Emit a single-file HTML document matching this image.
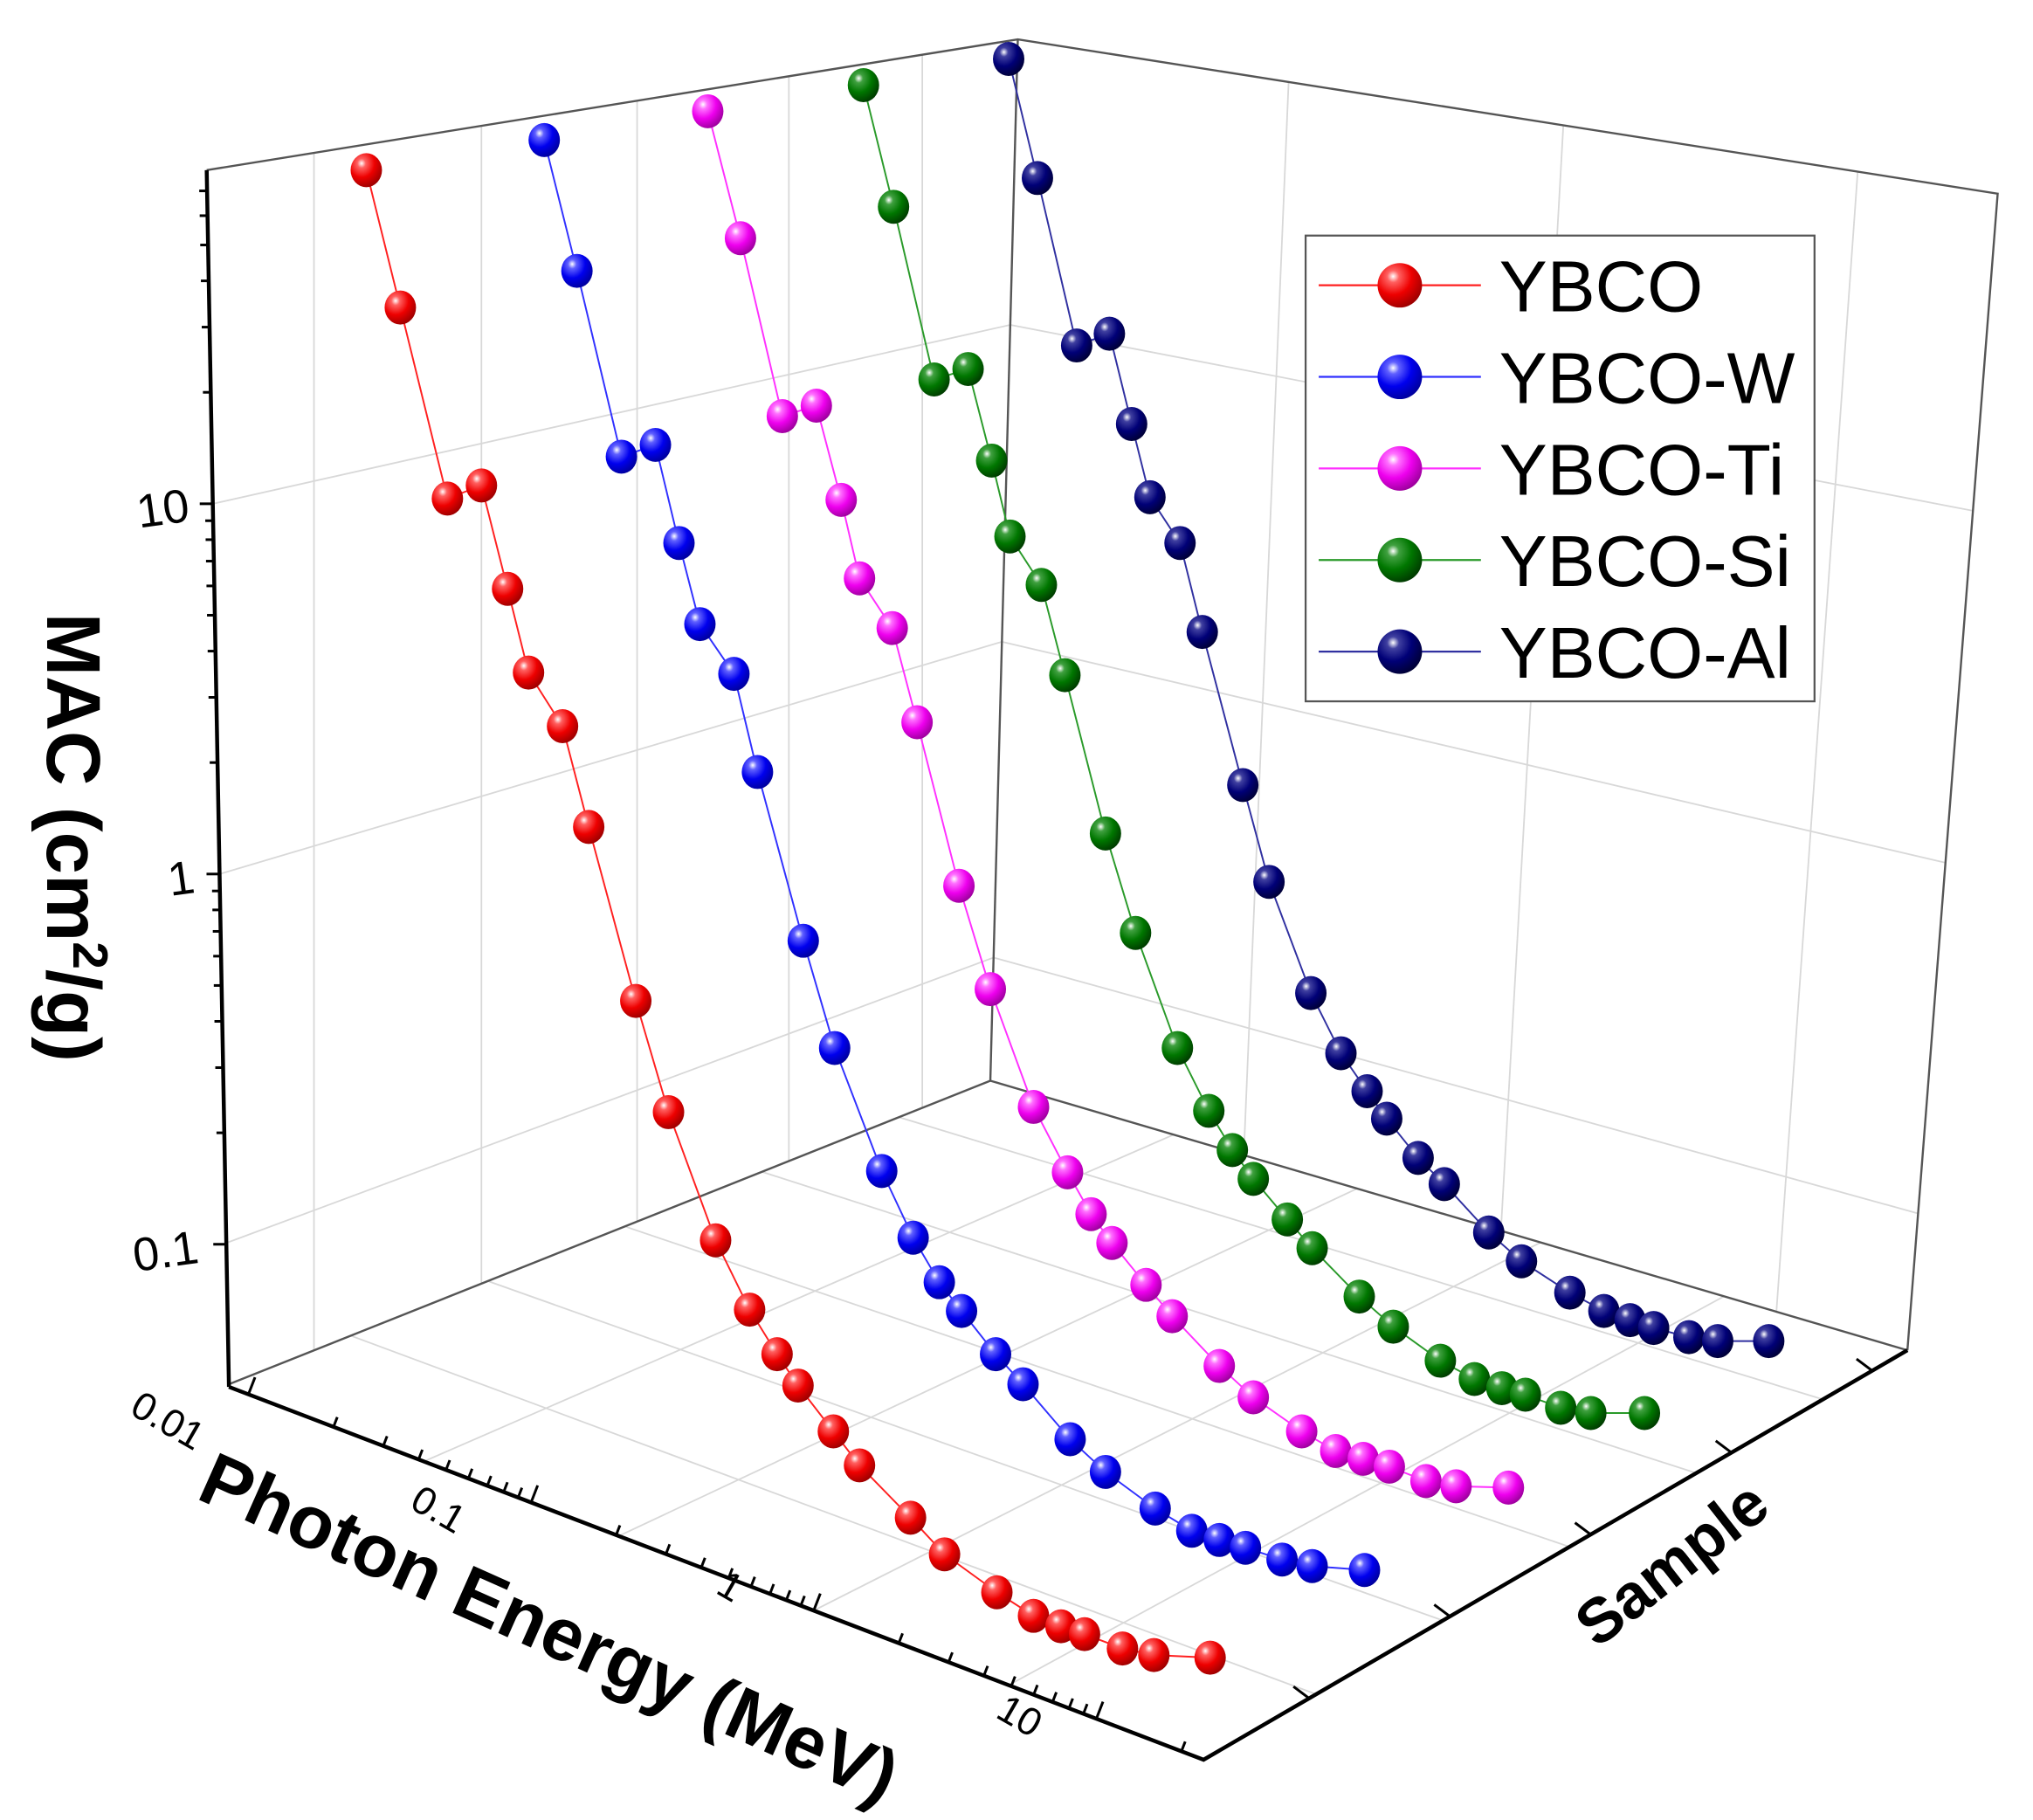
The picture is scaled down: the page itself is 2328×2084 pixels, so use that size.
<!DOCTYPE html>
<html><head><meta charset="utf-8"><style>
html,body{margin:0;padding:0;background:#fff}
svg{display:block}
text{font-family:"Liberation Sans",Arial,sans-serif}
</style></head><body>
<svg id="s" width="2328" height="2084" viewBox="0 0 1554 1391" xmlns="http://www.w3.org/2000/svg">
<defs>
<radialGradient id="gr" cx="0.35" cy="0.3" r="0.75"><stop offset="0" stop-color="#fff"/><stop offset="0.18" stop-color="#ff6060"/><stop offset="0.55" stop-color="#ee0000"/><stop offset="1" stop-color="#900"/></radialGradient>
<radialGradient id="gb" cx="0.35" cy="0.3" r="0.75"><stop offset="0" stop-color="#fff"/><stop offset="0.18" stop-color="#6060ff"/><stop offset="0.55" stop-color="#0000ee"/><stop offset="1" stop-color="#000099"/></radialGradient>
<radialGradient id="gm" cx="0.35" cy="0.3" r="0.75"><stop offset="0" stop-color="#fff"/><stop offset="0.18" stop-color="#ff70ff"/><stop offset="0.55" stop-color="#ee00ee"/><stop offset="1" stop-color="#990099"/></radialGradient>
<radialGradient id="gg" cx="0.35" cy="0.3" r="0.75"><stop offset="0" stop-color="#fff"/><stop offset="0.18" stop-color="#40a040"/><stop offset="0.55" stop-color="#007700"/><stop offset="1" stop-color="#003800"/></radialGradient>
<radialGradient id="gn" cx="0.35" cy="0.3" r="0.75"><stop offset="0" stop-color="#fff"/><stop offset="0.18" stop-color="#4040a0"/><stop offset="0.55" stop-color="#000077"/><stop offset="1" stop-color="#000033"/></radialGradient>
</defs>
<g id="grid" stroke="#d8d8d8" stroke-width="1.2" fill="none"></g>
<g stroke="#555" stroke-width="1.6" fill="none">
<polyline points="158,130 778,30 1527,148 1458,1032"/>
<line x1="778" y1="30" x2="757" y2="826"/>
<line x1="757" y1="826" x2="175" y2="1058"/>
<line x1="757" y1="826" x2="1458" y2="1032"/>
</g>
<g stroke="#000" stroke-width="3" fill="none">
<line x1="158" y1="130" x2="175" y2="1060"/>
<polyline points="175,1060 920,1345 1458,1032"/>
</g>
<g id="ticks" stroke="#000" stroke-width="2"></g>
<g id="data"></g>
<g font-size="36" fill="#000">
<text transform="translate(146,398) rotate(-8)" text-anchor="end">10</text>
<text transform="translate(150,682) rotate(-8)" text-anchor="end">1</text>
<text transform="translate(153,965) rotate(-8)" text-anchor="end">0.1</text>
<text transform="translate(98,1080) rotate(30)" font-size="30">0.01</text>
<text transform="translate(312,1152) rotate(30)" font-size="30">0.1</text>
<text transform="translate(546,1217) rotate(30)" font-size="30">1</text>
<text transform="translate(760,1312) rotate(30)" font-size="30">10</text>
</g>
<text transform="translate(36,640) rotate(90)" text-anchor="middle" font-size="58" font-weight="bold">MAC (cm<tspan font-size="38" dy="-20">2</tspan><tspan dy="20">/g)</tspan></text>
<text transform="translate(412,1262) rotate(24)" text-anchor="middle" font-size="57" font-weight="bold">Photon Energy (MeV)</text>
<text transform="translate(1288,1208) rotate(-38)" text-anchor="middle" font-size="48" font-weight="bold">Sample</text>
<rect x="998" y="180" width="389" height="356" fill="#fff" stroke="#555" stroke-width="1.5"/>
<g id="leg"></g>
<g font-size="55" fill="#000">
<text x="1146" y="238">YBCO</text>
<text x="1146" y="308">YBCO-W</text>
<text x="1146" y="378">YBCO-Ti</text>
<text x="1146" y="448">YBCO-Si</text>
<text x="1146" y="518">YBCO-Al</text>
</g>
</svg>
<script>
var NS="http://www.w3.org/2000/svg";
function el(p,t,a){var e=document.createElementNS(NS,t);for(var k in a)e.setAttribute(k,a[k]);document.getElementById(p).appendChild(e);return e;}
function L(p,x1,y1,x2,y2){el(p,"line",{x1:x1,y1:y1,x2:x2,y2:y2});}
function ax(y){return 158+(y-130)*17/928;}
function cx(y){return 778-(y-30)*21/796;}
[240,368,487,603,705].forEach(function(x){var t=(x-158)/(778-158);var yt=130+t*(30-130);var f=(x-175)/(757-175);var yb=1058+f*(826-1058);L("grid",x,yt,x,yb);});
var dec=[385,668,950];dec.forEach(function(y){var fr=(y-130)/(1060-130);var yc=30+fr*(826-30);L("grid",ax(y),y,cx(yc),yc);
 var yr=148+fr*(1032-148);var xr=1527-fr*69;L("grid",cx(yc),yc,xr,yr);});
[985,1195,1420].forEach(function(x){var t=(x-778)/(1527-778);var yt=30+t*118;var xb=757+t*(1458-757);var yb=826+t*206;L("grid",x,yt,xb,yb);});
[0.12,0.3,0.48,0.66,0.84].forEach(function(f){var x1=757+f*(175-757),y1=826+f*(1058-826);var x2=1458+f*(920-1458),y2=1032+f*(1345-1032);L("grid",x1,y1,x2,y2);});
[0.2,0.4,0.6,0.8].forEach(function(f){var x1=175+f*(920-175),y1=1060+f*(1345-1060);var x2=757+f*(1458-757),y2=826+f*(1032-826);L("grid",x1,y1,x2,y2);});
for(var d=0;d<4;d++){var base=385+(d-1)*283;for(var m=1;m<10;m++){var y=base-Math.log10(m)*283;if(y<130||y>1060)continue;var x=ax(y);L("ticks",x,y,x-(m==1?10:6),y);}}
var ex0=175,ey0=1060,ex1=920,ey1=1345;var dlen=0.29;
for(var d=0;d<4;d++){for(var m=1;m<10;m++){var f=0.02+(d+Math.log10(m))*dlen;if(f>1)continue;var x=ex0+f*(ex1-ex0),y=ey0+f*(ey1-ey0);var l=m==1?14:8;L("ticks",x,y,x+l*0.36,y-l*0.93);}}
[0.15,0.35,0.55,0.75,0.95].forEach(function(f){var x=920+f*(1458-920),y=1345+f*(1032-1345);L("ticks",x,y,x-12,y-9);});
var S=[
["#ff2020","gr",[[280,130],[306,235],[342,381],[368,371],[388,450],[404,514],[430,555],[450,632],[486,765],[511,850],[547,948],[573,1001],[594,1035],[610,1059],[637,1094],[657,1120],[696,1160],[722,1188],[762,1217],[790,1235],[811,1243],[829,1249],[858,1260],[882,1265],[925,1267]]],
["#3030ff","gb",[[416,107],[441,207],[475,349],[501,340],[519,415],[535,477],[561,515],[579,590],[614,719],[638,801],[674,895],[698,946],[718,980],[735,1002],[761,1035],[782,1058],[818,1100],[845,1125],[883,1153],[911,1170],[932,1177],[952,1183],[980,1192],[1003,1197],[1043,1200]]],
["#ff30ff","gm",[[541,85],[566,182],[598,318],[624,310],[643,382],[657,442],[682,480],[701,552],[733,677],[757,756],[790,846],[816,896],[834,928],[850,950],[876,982],[896,1006],[932,1044],[958,1068],[995,1094],[1021,1109],[1042,1115],[1062,1121],[1090,1132],[1113,1136],[1153,1137]]],
["#2a9a2a","gg",[[660,65],[683,158],[714,290],[740,282],[758,352],[772,410],[796,447],[814,516],[845,637],[868,713],[900,801],[924,849],[942,879],[958,901],[984,932],[1003,954],[1039,991],[1065,1014],[1101,1040],[1127,1054],[1148,1061],[1166,1066],[1193,1076],[1216,1080],[1257,1080]]],
["#3030a0","gn",[[771,45],[793,136],[823,264],[848,255],[865,324],[879,380],[902,415],[919,483],[950,600],[970,674],[1002,759],[1025,805],[1045,834],[1060,855],[1084,885],[1104,905],[1138,942],[1163,964],[1200,988],[1226,1002],[1246,1009],[1264,1015],[1291,1022],[1313,1025],[1352,1025]]]];
S.forEach(function(s,i){el("data","polyline",{points:s[2].map(function(p){return p.join(",")}).join(" "),fill:"none",stroke:s[0],"stroke-width":1.3});
 s[2].forEach(function(p){el("data","ellipse",{cx:p[0],cy:p[1],rx:12,ry:13,fill:"url(#"+s[1]+")"});});
 var y=218+i*70;el("leg","line",{x1:1008,y1:y,x2:1132,y2:y,stroke:s[0],"stroke-width":1.5});
 el("leg","circle",{cx:1070,cy:y,r:17,fill:"url(#"+s[1]+")"});});
</script>
</body></html>
